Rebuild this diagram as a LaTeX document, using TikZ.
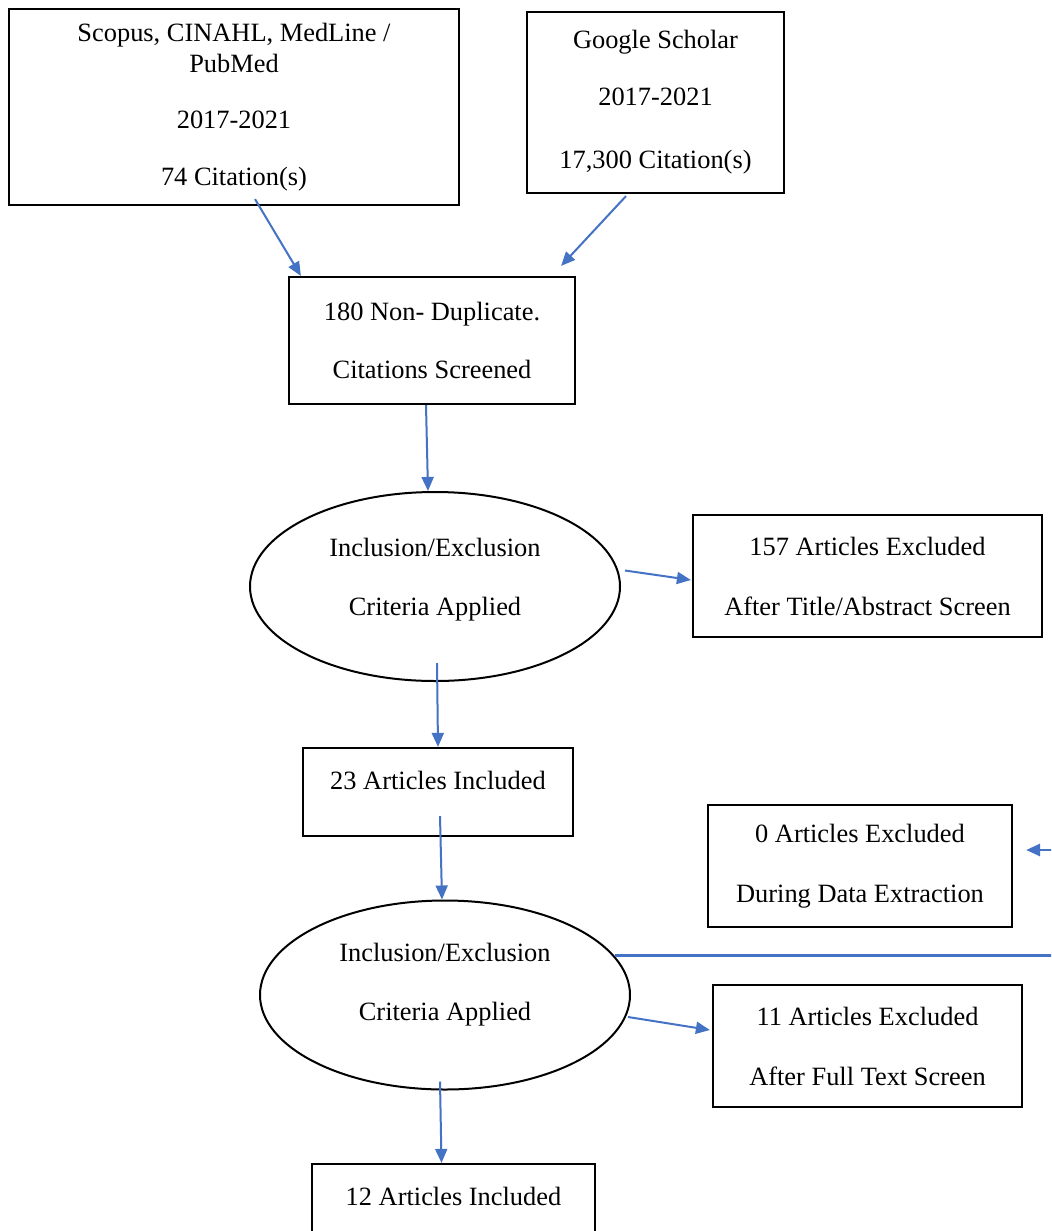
\documentclass[tikz,border=0pt]{standalone}
\usepackage{fontspec}
\setmainfont{Liberation Serif}
\usetikzlibrary{arrows.meta,shapes.geometric,calc}
\definecolor{wordblue}{HTML}{4472C4}
\begin{document}
\begin{tikzpicture}[x=0.5pt,y=-0.5pt,
  font=\fontsize{13.2}{15.5}\selectfont,
  box/.style={draw=black, line width=1.1pt, rectangle, inner sep=0pt, align=center},
  ell/.style={draw=black, line width=1pt, ellipse, inner sep=0pt, align=center,
              minimum width=185pt, minimum height=94.5pt},
  arr/.style={draw=wordblue, line width=1pt, -{Triangle[length=7pt,width=6pt]}},
  arrthick/.style={draw=wordblue, line width=1.4pt, -{Triangle[length=7pt,width=6pt]}}]
\clip (0,0) rectangle (1051,1231);
\fill[white] (0,0) rectangle (1051,1231);

% nodes
\node[box, minimum width=225pt, minimum height=98pt] (b1) at (234,107)
  {Scopus, CINAHL, MedLine /\\PubMed\\[12.5pt]2017-2021\\[13pt]74 Citation(s)};
\node[box, minimum width=128.5pt, minimum height=90.5pt] (b2) at (655.5,102.5)
  {Google Scholar\\[13pt]2017-2021\\[16pt]17,300 Citation(s)};
\node[box, minimum width=143pt, minimum height=63.5pt] (b3) at (432,340.5)
  {180 Non- Duplicate.\\[13.5pt]Citations Screened};
\node[ell] (e1) at (435,586.5)
  {Inclusion/Exclusion\\[14pt]Criteria Applied\\[-5.5pt]\mbox{}};
\node[box, minimum width=174.5pt, minimum height=61pt] (b157) at (867.5,576)
  {157 Articles Excluded\\[14.5pt]After Title/Abstract Screen};
\node[box, minimum width=135pt, minimum height=44pt, text height=9pt, text depth=12pt] (b23) at (438,792)
  {23 Articles Included};
\node[box, minimum width=152pt, minimum height=61pt] (b0) at (860,866)
  {0 Articles Excluded\\[14.5pt]During Data Extraction};
\node[ell] (e2) at (445,995)
  {Inclusion/Exclusion\\[14pt]Criteria Applied\\[-2.5pt]\mbox{}};
\node[box, minimum width=154.5pt, minimum height=61pt] (b11) at (867.5,1046)
  {11 Articles Excluded\\[14.5pt]After Full Text Screen};
\node[box, minimum width=141.5pt, minimum height=44pt, text height=9pt, text depth=12pt] (b12) at (453.5,1208)
  {12 Articles Included};

% connectors
\draw[arr] ($(b1.south)+(21,-7)$) -- ($(b3.north west)+(13,0)$);
\draw[arr] ($(b2.south)+(-29.5,2)$) -- ($(b3.north east)+(-15,-10)$);
\draw[arr] ($(b3.south)+(-6,0)$) -- ($(e1.north)+(-7,0)$);
\draw[arr] ($(e1.center)+(190,-16)$) -- ($(b157.west)+(-1,4)$);
\draw[arr] ($(e1.south)+(2,-19)$) -- (b23.north);
\draw[arr] ($(b23.south)+(2,-21)$) -- ($(e2.north)+(-3,0)$);
\draw[arr] ($(e2.center)+(183,22)$) -- ($(b11.west)+(-2,-16)$);
\draw[arr] ($(e2.south)+(-5,-9)$) -- ($(b12.north)+(-12,0)$);
\draw[arrthick] (e2.13) -- ++(470,0) |- ($(b0.east)+(13,-16)$);
\end{tikzpicture}
\end{document}
